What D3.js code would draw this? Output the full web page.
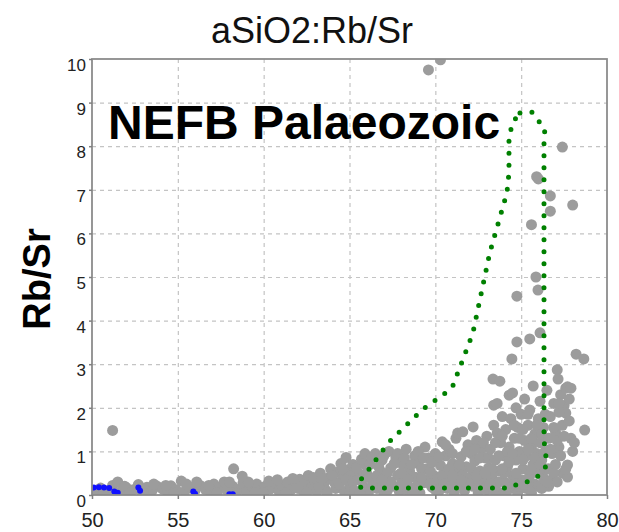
<!DOCTYPE html>
<html>
<head>
<meta charset="utf-8">
<script src="https://cdn.jsdelivr.net/npm/d3@7"></script>
<style>
  body { margin: 0; background: #fff; }
  text { font-family: Arial, "Liberation Sans", sans-serif; }
  .grid line { stroke: #c4c4c4; stroke-width: 1.2; stroke-dasharray: 4,4; }
  .grid path { display: none; }
  .axis path { display: none; }
  .axis line { stroke: #808080; stroke-width: 1.5; }
  .axis text { fill: #222; }
</style>
</head>
<body>
<div class="chart"></div>
<script>
var width = 619,
    height = 532;

var margin = { top: 59, right: 12, bottom: 37, left: 92 };

// SiO2 / Rb/Sr samples (grey)
var samples = [
  [50.2,0.07],[50.5,0.16],[50.9,0.1],[51.2,0.22],[51.5,0.3],[51.7,0.08],[52.0,0.17],[52.4,0.12],[52.7,0.24],[52.9,0.06],
  [53.2,0.18],[53.5,0.1],[53.8,0.2],[54.1,0.14],[54.4,0.07],[54.6,0.21],[54.9,0.12],[55.2,0.32],[55.4,0.08],[55.7,0.18],
  [56.0,0.1],[56.3,0.22],[56.6,0.13],[56.9,0.07],[57.1,0.25],[57.4,0.15],[57.7,0.3],[57.9,0.09],[58.2,0.2],[58.5,0.12],
  [58.8,0.28],[59.0,0.07],[59.3,0.19],[59.6,0.25],[59.8,0.1],[60.1,0.2],[60.4,0.14],[60.6,0.27],[60.9,0.08],[61.1,0.22],
  [61.4,0.3],[61.6,0.12],[61.9,0.24],[62.1,0.36],[62.3,0.1],
  [50.0,0.05],[50.7,0.05],[51.3,0.05],[51.9,0.2],[52.2,0.04],[53.0,0.05],[53.6,0.25],[54.3,0.22],[54.8,0.04],[55.5,0.25],
  [56.1,0.3],[56.8,0.22],[57.3,0.05],[58.0,0.3],[58.4,0.04],[59.1,0.3],[59.5,0.05],[60.0,0.05],[60.3,0.32],[60.8,0.35],
  [61.3,0.05],[61.7,0.38],[62.2,0.25],
  [51.2,1.48],[58.25,0.6],[58.75,0.43],
  [62.4,0.28],[62.6,0.45],[62.8,0.18],[63.0,0.33],[63.1,0.08],[63.3,0.5],[63.5,0.25],[63.6,0.12],[63.8,0.4],[63.9,0.6],
  [64.1,0.3],[64.2,0.15],[64.3,0.52],[64.5,0.72],[64.6,0.38],[64.7,0.08],[64.8,0.86],[64.9,0.58],[65.0,0.25],[65.1,0.45],
  [62.0,0.15],[62.5,0.05],[62.9,0.4],[63.2,0.2],[63.4,0.38],[63.7,0.05],[64.0,0.45],[64.4,0.25],[64.6,0.6],[64.8,0.35],
  [65.2,0.7],[65.0,0.05],[65.6,0.48],[65.9,0.7],[65.2,0.3],
  [65.3,0.1],[65.4,0.62],[65.5,0.35],[65.7,0.82],[65.8,0.2],[66.0,0.5],[66.1,0.05],[66.2,0.7],[66.4,0.32],[66.5,0.95],
  [66.6,0.15],[66.8,0.55],[66.9,0.8],[67.0,0.05],[67.1,0.38],[67.3,1.0],[67.4,0.62],[67.5,0.2],[67.7,0.85],[67.8,0.45],
  [67.9,0.08],[68.1,0.7],[68.2,0.3],[68.3,1.05],[68.5,0.55],[68.6,0.15],[68.8,0.9],[68.9,0.4],[69.0,0.72],[69.1,0.05],
  [69.3,0.28],[69.4,1.1],[69.5,0.6],[69.6,0.85],[69.8,0.18],[69.9,0.45],[70.0,0.95],
  [65.9,0.95],[66.1,0.4],[66.3,0.85],[66.6,0.45],[66.7,0.65],[66.9,0.2],[67.0,0.9],[67.2,0.5],[67.4,0.3],[67.6,0.72],
  [67.8,0.95],[68.0,0.5],[68.2,0.85],[68.4,0.1],[68.6,0.7],[68.7,0.42],[68.9,0.2],[69.0,1.0],[69.2,0.6],[69.3,0.85],
  [69.5,0.35],[69.7,0.55],[69.8,0.75],[70.0,0.35],
  [70.1,0.3],[70.2,0.08],[70.3,0.68],[70.4,1.22],[70.5,0.5],[70.6,0.9],[70.7,0.15],[70.8,1.05],[70.9,0.38],[71.0,0.72],
  [71.1,0.05],[71.2,1.3],[71.3,0.55],[71.3,1.42],[71.4,0.25],[71.5,0.88],[71.6,1.45],[71.7,0.1],[71.8,0.65],[71.9,1.15],
  [72.0,0.4],[72.1,0.95],[72.2,1.56],[72.2,0.2],[72.3,0.78],[72.4,1.25],[72.5,0.05],[72.6,0.55],[72.7,1.05],[72.8,0.3],
  [72.9,0.85],[73.0,1.35],[73.0,0.12],[73.1,0.62],
  [70.2,0.88],[70.4,0.45],[70.5,0.25],[70.6,1.15],[70.8,0.6],[71.0,0.95],[71.2,0.2],[71.4,0.7],[71.6,0.45],[71.8,1.0],
  [71.9,0.25],[72.1,0.6],[72.3,1.05],[72.5,0.35],[72.6,0.85],[72.7,0.15],[72.8,1.2],[73.0,0.45],[73.1,0.85],
  [73.2,1.05],[73.3,0.4],[73.4,1.6],[73.4,2.06],[73.5,0.2],[73.5,0.8],[73.6,1.42],[73.6,2.1],[73.7,0.55],[73.8,1.2],
  [73.8,0.05],[73.9,1.8],[74.0,0.9],[74.0,0.3],[74.1,1.5],[74.2,0.65],[74.3,2.29],[74.3,1.1],[74.4,0.15],[74.4,1.75],
  [74.5,2.34],[74.5,0.45],[74.6,1.3],[74.7,0.8],[74.7,2.0],[74.8,0.05],[74.8,1.55],[74.9,1.0],[75.0,0.35],[75.0,1.85],
  [75.1,0.6],[75.2,1.25],[75.2,2.2],[75.3,0.15],[75.3,0.9],[75.4,1.6],[75.5,0.45],[75.5,1.95],[75.6,1.1],[75.7,0.7],
  [75.7,2.5],[75.8,0.25],[75.8,1.4],[75.9,0.95],[76.0,1.75],[76.0,0.5],[76.1,2.15],[76.1,1.2],[76.2,0.8],[76.3,0.4],
  [76.3,1.55],[76.4,1.0],[76.5,2.4],
  [73.3,0.6],[73.4,0.1],[73.5,1.2],[73.7,0.9],[73.7,0.3],[73.9,1.35],[74.0,0.5],[74.2,0.25],[74.2,1.0],[74.3,0.75],
  [74.5,0.95],[74.6,1.6],[74.7,0.5],[74.9,0.2],[74.9,1.3],[75.1,0.8],[75.1,1.5],[75.3,0.35],[75.4,1.05],[75.4,1.85],
  [75.6,0.6],[75.6,1.3],[75.8,0.85],[75.9,1.6],[76.0,0.2],[76.1,0.7],[76.2,1.4],[76.3,0.95],[76.4,1.85],[76.4,0.6],
  [76.6,0.6],[76.6,1.3],[76.7,1.8],[76.8,0.35],[76.8,0.95],[76.9,2.1],[77.0,1.45],[77.0,0.7],[77.2,1.1],[77.3,2.3],
  [77.4,0.5],[77.4,1.6],[77.5,2.05],[77.6,1.88],[77.7,0.69],[77.7,0.41],[77.9,1.3],[78.0,1.0],[78.7,1.49],
  [76.6,0.2],[76.7,1.05],[76.9,0.5],[76.9,1.55],[77.1,0.3],[77.1,1.25],[77.2,1.9],[77.3,0.9],[77.5,1.35],[77.6,0.6],
  [77.8,1.7],[77.8,2.2],[78.1,1.2],[77.6,2.45],[77.2,2.1],
  [65.6,0.05],[66.3,0.2],[67.2,0.1],[68.0,0.25],[68.7,0.05],[69.2,0.4],[70.0,0.12],[70.9,0.2],[71.5,0.35],[72.4,0.45],
  [73.2,0.25],[74.1,0.05],[74.6,0.25],[75.6,0.05],[76.2,0.15],[76.5,0.3],[66.9,0.35],[68.4,0.35],[69.7,0.25],[71.0,0.45],
  [72.9,0.5],[73.9,0.6],[75.1,0.25],
  [69.6,9.75],[70.3,9.98],[77.4,7.98],[75.9,7.3],[76.0,7.25],[76.7,6.86],[78.0,6.65],[76.7,6.51],[75.6,6.2],[75.86,5.0],
  [75.98,4.7],[74.75,4.56],[76.1,3.72],[75.5,3.58],[74.75,3.51],[74.46,3.12],[78.2,3.23],[78.65,3.12],[77.1,2.87],[77.15,2.66],
  [73.36,2.66],[73.76,2.61],[77.7,2.48],[77.9,2.45]
];

// blue samples along the base
var blueSamples = [
  [50.1,0.17],[50.4,0.18],[50.7,0.17],[51.0,0.16],[51.3,0.08],[51.5,0.05],[52.7,0.17],[52.8,0.1],
  [55.9,0.08],[56.0,0.03],[58.0,0.02],[58.2,0.02]
];

// dotted green field outline
var field = [
  [74.93,8.76],[75.63,8.78],[76.38,8.39],[76.33,8.14],[76.33,1.26],[76.5,0.69],[76.09,0.46],[75.5,0.32],
  [74.8,0.25],[74.34,0.16],[65.72,0.16],[65.43,0.25],[65.9,0.46],[67.24,1.19],[69.22,1.95],[70.97,2.45],
  [72.19,3.72],[73.18,5.57],[74.17,6.93],[74.29,7.39],[74.29,8.21],[74.52,8.56]
];

var xTicks = [50, 55, 60, 65, 70, 75, 80];
var yTicks = [0, 1, 2, 3, 4, 5, 6, 7, 8, 9, 10];

var svg = d3.select(".chart").append("svg")
    .attr("width", width)
    .attr("height", height);

var x = d3.scaleLinear()
    .domain([50, 80])
    .range([margin.left, width - margin.right]);

var y = d3.scaleLinear()
    .domain([0, 10])
    .range([height - margin.bottom, margin.top]);

svg.append("defs").append("clipPath")
    .attr("id", "plot-clip")
  .append("rect")
    .attr("x", margin.left)
    .attr("y", margin.top)
    .attr("width", width - margin.left - margin.right)
    .attr("height", height - margin.top - margin.bottom);

// grid
svg.append("g")
    .attr("class", "grid")
    .attr("transform", "translate(0," + (height - margin.bottom) + ")")
    .call(d3.axisBottom(x).tickValues(xTicks.slice(1, -1)).tickSize(-(height - margin.top - margin.bottom)).tickFormat(""));

svg.append("g")
    .attr("class", "grid")
    .attr("transform", "translate(" + margin.left + ",0)")
    .call(d3.axisLeft(y).tickValues(yTicks.slice(1, -1)).tickSize(-(width - margin.left - margin.right)).tickFormat(""));

// points
var plot = svg.append("g").attr("clip-path", "url(#plot-clip)");

plot.selectAll(".sample")
    .data(samples)
    .enter().append("circle")
    .attr("class", "sample")
    .attr("cx", function(d) { return x(d[0]); })
    .attr("cy", function(d) { return y(d[1]); })
    .attr("r", 5.5)
    .attr("fill", "#9c9c9c");

plot.selectAll(".blue")
    .data(blueSamples)
    .enter().append("circle")
    .attr("class", "blue")
    .attr("cx", function(d) { return x(d[0]); })
    .attr("cy", function(d) { return y(d[1]); })
    .attr("r", 3)
    .attr("fill", "#1010ff");

// field outline
var line = d3.line()
    .x(function(d) { return x(d[0]); })
    .y(function(d) { return y(d[1]); })
    .curve(d3.curveLinearClosed);

svg.append("path")
    .datum(field)
    .attr("d", line)
    .attr("fill", "none")
    .attr("stroke", "#008000")
    .attr("stroke-width", 5)
    .attr("stroke-linecap", "round")
    .attr("stroke-dasharray", "0,12");

// frame
svg.append("rect")
    .attr("x", margin.left)
    .attr("y", margin.top)
    .attr("width", width - margin.left - margin.right)
    .attr("height", height - margin.top - margin.bottom)
    .attr("fill", "none")
    .attr("stroke", "#8c8c8c")
    .attr("stroke-width", 1.8);

// axes
var xAxis = svg.append("g")
    .attr("class", "axis")
    .attr("transform", "translate(0," + (height - margin.bottom) + ")")
    .call(d3.axisBottom(x).tickValues(xTicks).tickSize(4).tickPadding(14));

xAxis.selectAll("text")
    .style("font-size", "20px");

var yAxis = svg.append("g")
    .attr("class", "axis")
    .attr("transform", "translate(" + margin.left + ",0)")
    .call(d3.axisLeft(y).tickValues(yTicks).tickSize(3).tickPadding(3));

yAxis.selectAll("text")
    .attr("dy", "0.68em")
    .style("font-size", "17px");

// titles
svg.append("text")
    .attr("x", 312)
    .attr("y", 43)
    .attr("text-anchor", "middle")
    .style("font-size", "36px")
    .style("fill", "#111")
    .text("aSiO2:Rb/Sr");

svg.append("text")
    .attr("x", 108)
    .attr("y", 139)
    .style("font-size", "48px")
    .style("font-weight", "bold")
    .style("fill", "#000")
    .text("NEFB Palaeozoic");

svg.append("text")
    .attr("transform", "translate(50,279) rotate(-90)")
    .attr("text-anchor", "middle")
    .style("font-size", "38px")
    .style("font-weight", "bold")
    .style("fill", "#000")
    .text("Rb/Sr");
</script>
</body>
</html>
